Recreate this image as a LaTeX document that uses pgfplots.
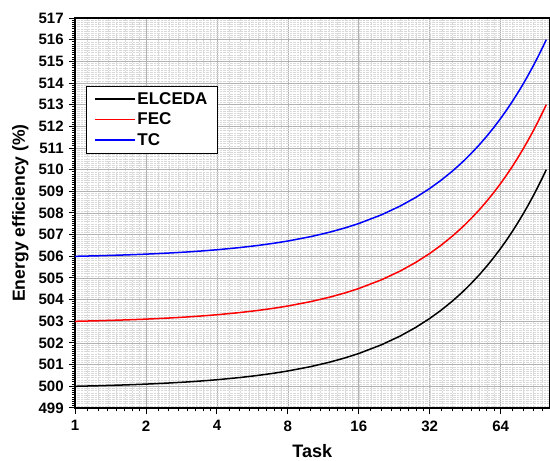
\documentclass[border=0pt]{standalone}
\usepackage{pgfplots}
\pgfplotsset{compat=1.18}
\usepackage{pgfplotstable}
\usepackage{fontspec}
\setmainfont{Liberation Sans}

\pgfplotstableread{
x     elceda   fec      tc
1     500.000  503.000  506.000
1.25  500.025  503.025  506.025
1.5   500.051  503.051  506.051
1.75  500.076  503.076  506.076
2     500.101  503.101  506.101
2.5   500.152  503.152  506.152
3     500.202  503.202  506.202
3.5   500.253  503.253  506.253
4     500.303  503.303  506.303
5     500.404  503.404  506.404
6     500.505  503.505  506.505
7     500.606  503.606  506.606
8     500.707  503.707  506.707
10    500.909  503.909  506.909
12    501.111  504.111  507.111
14    501.313  504.313  507.313
16    501.515  504.515  507.515
20    501.919  504.919  507.919
24    502.323  505.323  508.323
28    502.727  505.727  508.727
32    503.131  506.131  509.131
36    503.535  506.535  509.535
40    503.939  506.939  509.939
44    504.343  507.343  510.343
48    504.747  507.747  510.747
52    505.152  508.152  511.152
56    505.556  508.556  511.556
60    505.960  508.960  511.960
64    506.364  509.364  512.364
68    506.768  509.768  512.768
72    507.172  510.172  513.172
76    507.576  510.576  513.576
80    507.980  510.980  513.980
84    508.384  511.384  514.384
88    508.788  511.788  514.788
92    509.192  512.192  515.192
96    509.596  512.596  515.596
100   510.000  513.000  516.000
}\effdata

\begin{document}
\begin{tikzpicture}
\begin{axis}[
  scale only axis,
  width=473pt, height=389pt,
  xmode=log,
  xmin=1, xmax=103,
  ymin=499, ymax=517,
  xtick={1,2,4,8,16,32,64},
  xticklabels={1,2,4,8,16,32,64},
  minor xtick={1.125,1.25,...,2,2.25,2.5,...,4,4.5,5,...,8,9,10,...,16,18,20,...,32,36,40,...,64,72,80,...,100},
  ytick distance=1,
  minor y tick num=9,
  tick align=outside,
  tick pos=left,
  major tick length=6pt,
  minor tick length=3.5pt,
  every tick/.style={black, line width=1pt},
  axis line style={line width=1.4pt},
  grid=both,
  major grid style={gray!60, line width=0.8pt},
  minor grid style={gray!30, densely dotted, line width=0.4pt},
  /pgf/number format/assume math mode=true,
  tick label style={font=\fontsize{15}{17}\selectfont\bfseries},
  xticklabel style={yshift=-3pt},
  yticklabel style={xshift=-2pt},
  xlabel={Task},
  ylabel={Energy efficiency (\%)},
  xlabel style={font=\fontsize{18}{20}\selectfont\bfseries, yshift=-6pt},
  ylabel style={font=\fontsize{17.5}{20}\selectfont\bfseries, yshift=3pt},
  legend style={at={(0.022,0.825)}, anchor=north west, draw=black,
    font=\fontsize{17}{20}\selectfont\bfseries, row sep=3pt, inner xsep=8pt, inner ysep=4pt},
  legend cell align=left,
  legend image code/.code={\draw[#1, line width=1.5pt] (0pt,0pt) -- (40pt,0pt);},
]
\addplot[black, line width=1.5pt] table[x=x, y=elceda] {\effdata};
\addlegendentry{ELCEDA}
\addplot[red, line width=1.5pt] table[x=x, y=fec] {\effdata};
\addlegendentry{FEC}
\addplot[blue, line width=1.5pt] table[x=x, y=tc] {\effdata};
\addlegendentry{TC}
\end{axis}
\path (current axis.north) ++(0pt,18pt);
\path (current axis.west) ++(-75pt,0pt);
\end{tikzpicture}
\end{document}
